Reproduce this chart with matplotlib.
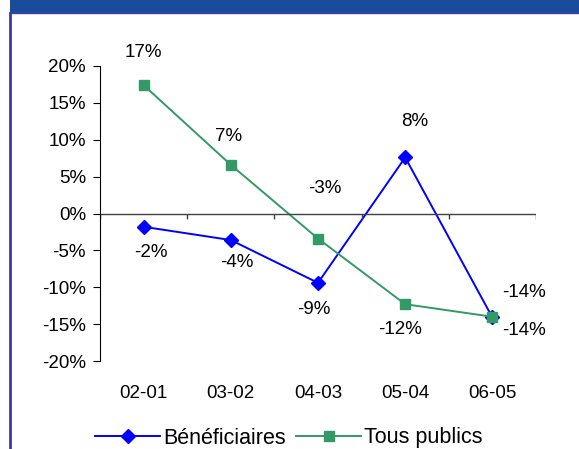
import matplotlib
matplotlib.use("Agg")
import matplotlib.pyplot as plt
from matplotlib.patches import Rectangle
from matplotlib.lines import Line2D
import numpy as np

plt.rcParams['font.family'] = ['Liberation Sans', 'DejaVu Sans']

# donnees
periodes = ['02-01', '03-02', '04-03', '05-04', '06-05']
beneficiaires = [-1.8, -3.6, -9.4, 7.6, -14.1]
tous_publics = [17.4, 6.6, -3.4, -12.3, -14.0]

# decalage des etiquettes (pixels)
off_benef = [(7, -26), (6, -22), (-4, -27), (9, 36), (32, 25)]
off_tous = [(0, 33), (-2, 28), (7, 50), (-5, -25), (32, -14)]

W, H = 579, 449
fs = 13.5
fig = plt.figure(figsize=(W / 100, H / 100), dpi=100)
ax = fig.add_axes([100 / W, 1 - 361 / H, (536 - 100) / W, (361 - 66) / H])

x = np.arange(len(periodes))
ax.plot(x, beneficiaires, color='#0000ff', marker='D', markersize=7, lw=1.4, label='Bénéficiaires')
ax.plot(x, tous_publics, color='#339966', marker='s', markersize=7, lw=1.4, label='Tous publics')

for xi, v, o in zip(x, beneficiaires, off_benef):
    ax.annotate(f"{v:.0f}%", (xi, v), xytext=o, textcoords='offset pixels',
                ha='center', va='center', fontsize=fs)
for xi, v, o in zip(x, tous_publics, off_tous):
    ax.annotate(f"{v:.0f}%", (xi, v), xytext=o, textcoords='offset pixels',
                ha='center', va='center', fontsize=fs)

ax.set_xlim(-0.5, len(periodes) - 0.5)
ax.set_ylim(-20, 20)
ax.set_yticks(np.arange(-20, 21, 5))
ax.set_yticklabels([f"{t}%" for t in range(-20, 21, 5)], fontsize=fs)
ax.tick_params(axis='y', length=5, width=0.8, pad=5)

ax.set_xticks(x)
ax.set_xticklabels(periodes, fontsize=fs)
ax.tick_params(axis='x', length=0, pad=17)

# axe horizontal a zero avec graduations entre categories
ax.axhline(0, color='#404040', lw=1)
ax.vlines(np.arange(-0.5, len(periodes)), -0.7, 0, color='#404040', lw=1)

for s in ['top', 'right', 'bottom']:
    ax.spines[s].set_visible(False)
ax.spines['left'].set_linewidth(0.8)

# bandeau du titre et bordure
fig.patches.append(Rectangle((10 / W, 1 - 13 / H), 1, 13 / H, transform=fig.transFigure,
                             facecolor='#1a4c9c', edgecolor='none'))
fig.lines.append(Line2D([10 / W, 1], [1 - 13 / H, 1 - 13 / H], transform=fig.transFigure,
                        color='#4040a8', lw=1))
fig.lines.append(Line2D([10 / W, 10 / W], [0, 1 - 13 / H], transform=fig.transFigure,
                        color='#3a3aa8', lw=2))

fig.legend(loc='center', bbox_to_anchor=(289 / W, 1 - 438 / H), ncol=2, frameon=False,
           fontsize=15.5, handlelength=3.0, columnspacing=0.5, handletextpad=0.15,
           borderpad=0)

fig.savefig('out.png', dpi=100)
